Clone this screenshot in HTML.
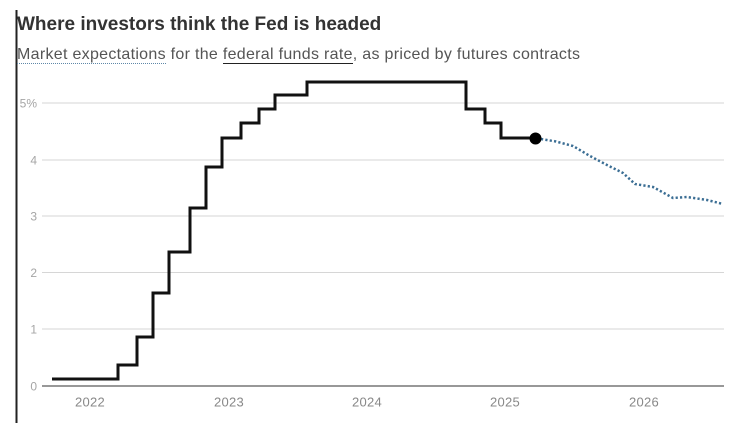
<!DOCTYPE html>
<html>
<head>
<meta charset="utf-8">
<style>
  html, body { margin: 0; padding: 0; background: #fff; }
  body { width: 730px; height: 426px; position: relative; overflow: hidden; font-family: "Liberation Sans", Arial, sans-serif; }
  .title { position: absolute; left: 17px; top: 15px; font-size: 19px; line-height: 19px; font-weight: bold; color: #333; white-space: nowrap; }
  .sub { position: absolute; left: 17px; top: 46.5px; font-size: 16px; line-height: 16px; color: #555; letter-spacing: 0.3px; white-space: nowrap; }
  .dot { border-bottom: 1.5px dotted #5f88a8; }
  .sol { border-bottom: 1.5px solid #222; }
  svg { position: absolute; left: 0; top: 0; }
</style>
</head>
<body>
<svg width="730" height="426" viewBox="0 0 730 426" xmlns="http://www.w3.org/2000/svg">
  <line x1="16.5" y1="10" x2="16.5" y2="423" stroke="#222" stroke-width="2"/>
  <g stroke="#d6d6d6" stroke-width="1">
    <line x1="42" y1="103" x2="724" y2="103"/>
    <line x1="42" y1="160" x2="724" y2="160"/>
    <line x1="42" y1="216" x2="724" y2="216"/>
    <line x1="42" y1="272.5" x2="724" y2="272.5"/>
    <line x1="42" y1="329" x2="724" y2="329"/>
  </g>
  <line x1="42" y1="386" x2="724" y2="386" stroke="#777" stroke-width="1.5"/>
  <g font-family="Liberation Sans, Arial, sans-serif" font-size="12" fill="#a5a5a5" text-anchor="end">
    <text x="37" y="107.5">5%</text>
    <text x="37" y="164.5">4</text>
    <text x="37" y="220.5">3</text>
    <text x="37" y="277">2</text>
    <text x="37" y="333.5">1</text>
    <text x="37" y="390.5">0</text>
  </g>
  <g font-family="Liberation Sans, Arial, sans-serif" font-size="13" fill="#888" text-anchor="middle" letter-spacing="0.3">
    <text x="90" y="406.5">2022</text>
    <text x="229" y="406.5">2023</text>
    <text x="367" y="406.5">2024</text>
    <text x="505" y="406.5">2025</text>
    <text x="644" y="406.5">2026</text>
  </g>
  <path d="M52,379 H118 V365 H137 V337 H153 V293 H169 V252 H190 V208 H206 V167 H222 V138 H241 V123 H259 V109 H275 V95 H307 V82 H466 V109 H485 V123 H501 V138 H535"
        fill="none" stroke="#111" stroke-width="3" stroke-linejoin="miter"/>
  <polyline points="541,139 556,141.5 573,146 590,156 607,165 623,173 635,184 653,187 673,198 687,197 707,200 723,204"
        fill="none" stroke="#3b6e94" stroke-width="2.5" stroke-dasharray="2.2 2.2"/>
  <circle cx="535.5" cy="138.5" r="6" fill="#000"/>
</svg>
<div class="title">Where investors think the Fed is headed</div>
<div class="sub"><span class="dot">Market expectations</span> for the <span class="sol">federal funds rate</span>, as priced by futures contracts</div>
</body>
</html>
